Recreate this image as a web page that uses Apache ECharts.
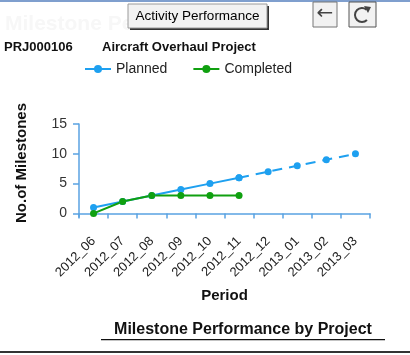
<!DOCTYPE html>
<html><head><meta charset="utf-8">
<script src="https://cdn.jsdelivr.net/npm/echarts@6/dist/echarts.min.js"></script>
<style>html,body{margin:0;padding:0;background:#fff}#c{width:410px;height:355px}</style>
</head><body><div id="c"></div>
<script>
var categories = ['2012_06','2012_07','2012_08','2012_09','2012_10','2012_11','2012_12','2013_01','2013_02','2013_03'];
var plannedActual = [1, 2, 3, 4, 5, 6, null, null, null, null];
var plannedFuture = [null, null, null, null, null, 6, 7, 8, 9, 10];
var completed = [0, 2, 3, 3, 3, 3, null, null, null, null];
var yTicks = [0, 5, 10, 15];

var blue = '#1ea0f0', green = '#10a010', axisBlue = '#5aa2e2';
var font = 'Arial, "Liberation Sans", sans-serif';
var chart = echarts.init(document.getElementById('c'));
chart.setOption({
  animation: false,
  textStyle: {fontFamily: font},
  grid: {left: 79, right: 40, top: 124, bottom: 138, containLabel: false},
  legend: {
    left: 79, top: 57, itemWidth: 26, itemHeight: 10, itemGap: 25,
    textStyle: {fontSize: 14, color: '#222', fontFamily: font},
    data: ['Planned', 'Completed']
  },
  xAxis: {
    type: 'category', data: categories, boundaryGap: true,
    axisLine: {lineStyle: {color: axisBlue, width: 1.5}},
    axisTick: {show: true, length: 5, lineStyle: {color: axisBlue, width: 1.5}},
    axisLabel: {rotate: 45, fontSize: 13, color: '#222', margin: 22, interval: 0, fontFamily: font},
    name: 'Period', nameLocation: 'middle', nameGap: 71,
    nameTextStyle: {fontSize: 15, fontWeight: 'bold', color: '#111', fontFamily: font}
  },
  yAxis: {
    type: 'value', min: -0.6, max: 15,
    splitLine: {show: false},
    axisLine: {show: true, lineStyle: {color: axisBlue, width: 1.5}},
    axisTick: {show: true, length: 6, customValues: yTicks, lineStyle: {color: axisBlue, width: 1.5}},
    axisLabel: {fontSize: 14, color: '#333', margin: 12, customValues: yTicks, fontFamily: font}
  },
  series: [
    {name: 'Planned', type: 'line', data: plannedActual, symbol: 'circle', symbolSize: 7,
     itemStyle: {color: blue}, lineStyle: {color: blue, width: 2}, connectNulls: false},
    {name: 'Planned', type: 'line', data: plannedFuture, symbol: 'circle', symbolSize: 7,
     itemStyle: {color: blue}, lineStyle: {color: blue, width: 2, type: [10, 7]}, showSymbol: true},
    {name: 'Completed', type: 'line', data: completed, symbol: 'circle', symbolSize: 7,
     itemStyle: {color: green}, lineStyle: {color: green, width: 2}}
  ],
  graphic: [
    {type: 'rect', shape: {x: 0, y: 0, width: 410, height: 2}, style: {fill: '#7f9fce'}},
    {type: 'text', left: 5, top: 14, style: {text: 'Milestone Performance', font: 'bold 21px ' + font, fill: '#f7f7f7'}},
    {type: 'rect', shape: {x: 130, y: 6, width: 139, height: 24}, style: {fill: '#333'}},
    {type: 'rect', shape: {x: 128, y: 4, width: 139, height: 24}, style: {fill: '#f2f2f2', stroke: '#9a9a9a', lineWidth: 1}},
    {type: 'text', x: 197.5, y: 16, style: {text: 'Activity Performance', font: '13.5px ' + font, fill: '#000', align: 'center', verticalAlign: 'middle'}},
    {type: 'rect', shape: {x: 313, y: 2, width: 24, height: 25}, style: {fill: '#f2f2f2', stroke: '#777', lineWidth: 1}},
    {type: 'text', x: 325, y: 14, style: {text: '\u2190', font: '20px "DejaVu Sans"', fill: '#444', align: 'center', verticalAlign: 'middle'}},
    {type: 'rect', shape: {x: 349, y: 2, width: 27, height: 25}, style: {fill: '#f2f2f2', stroke: '#555', lineWidth: 1}},
    {type: 'arc', shape: {cx: 362, cy: 15, r: 7, startAngle: Math.PI * 0.25, endAngle: Math.PI * 1.72, clockwise: true}, style: {stroke: '#444', lineWidth: 2, fill: null}},
    {type: 'polygon', shape: {points: [[364, 6], [371, 7], [368, 13]]}, style: {fill: '#444'}},
    {type: 'text', left: 4, top: 41, style: {text: 'PRJ000106', font: 'bold 13px ' + font, fill: '#111'}},
    {type: 'text', left: 102, top: 41, style: {text: 'Aircraft Overhaul Project', font: 'bold 13px ' + font, fill: '#111'}},
    {type: 'text', x: 22, y: 163, rotation: Math.PI / 2, style: {text: 'No.of Milestones', font: 'bold 15px ' + font, fill: '#111', align: 'center', verticalAlign: 'middle'}},
    {type: 'text', x: 243, y: 330, style: {text: 'Milestone Performance by Project', font: 'bold 16px ' + font, fill: '#111', align: 'center', verticalAlign: 'middle'}},
    {type: 'rect', shape: {x: 101, y: 339, width: 284, height: 1.2}, style: {fill: '#111'}},
    {type: 'rect', shape: {x: 0, y: 351, width: 410, height: 2}, style: {fill: '#333'}}
  ]
});
</script></body></html>
